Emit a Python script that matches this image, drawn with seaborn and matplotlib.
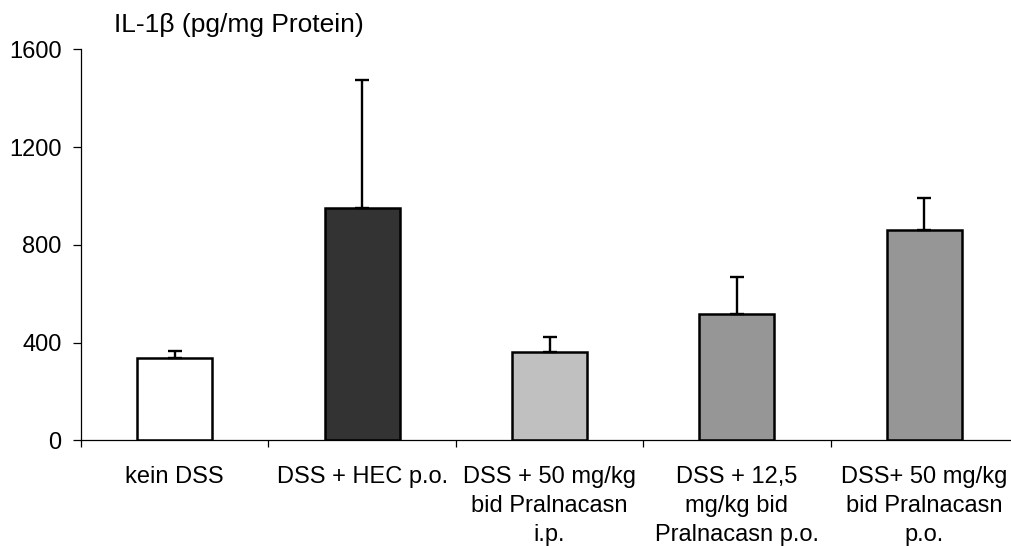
import matplotlib
matplotlib.use("Agg")
import matplotlib.pyplot as plt
import seaborn as sns
import numpy as np
import pandas as pd
from matplotlib.ticker import FixedLocator

# Groups, mean IL-1beta values and upper error (SD) per group
categories = [
    "kein DSS",
    "DSS + HEC p.o.",
    "DSS + 50 mg/kg\nbid Pralnacasn\ni.p.",
    "DSS + 12,5\nmg/kg bid\nPralnacasn p.o.",
    "DSS+ 50 mg/kg\nbid Pralnacasn\np.o.",
]
values = [338, 950, 360, 515, 862]
errors = [26, 524, 63, 154, 129]
bar_colors = ["#ffffff", "#333333", "#c0c0c0", "#969696", "#969696"]
y_ticks = [0, 400, 800, 1200, 1600]

sns.set_theme(style="white")
plt.rcParams["font.family"] = ["Liberation Sans", "DejaVu Sans"]

W, H = 1011, 546
fig = plt.figure(figsize=(W / 100, H / 100), dpi=100)
left, right, bottom, top = 81, 1018, 440.3, 49.3
ax = fig.add_axes([left / W, (H - bottom) / H, (right - left) / W, (bottom - top) / H])

df = pd.DataFrame({"group": categories, "value": values})
sns.barplot(data=df, x="group", y="value", hue="group", palette=bar_colors,
            legend=False, width=0.4, edgecolor="black", linewidth=1.8,
            saturation=1, ax=ax, zorder=2)

xpos = np.arange(len(categories))
ax.errorbar(xpos, values, yerr=[np.zeros(len(values)), errors], fmt="none",
            ecolor="black", elinewidth=1.7, capsize=5, capthick=1.7, zorder=3)

ax.set_xlim(-0.5, len(categories) - 0.5)
ax.set_ylim(0, 1600)
ax.set_yticks(y_ticks)
ax.set_xlabel("")
ax.set_ylabel("")

for side in ["top", "right"]:
    ax.spines[side].set_visible(False)
for side in ["left", "bottom"]:
    ax.spines[side].set_color("black")
    ax.spines[side].set_linewidth(0.9)

ax.tick_params(axis="y", which="major", direction="out", length=6, width=0.9,
               color="black", labelsize=17, pad=8, left=True)
ax.tick_params(axis="x", which="major", length=0, labelsize=17, pad=18.5)
ax.xaxis.set_minor_locator(FixedLocator(np.arange(-0.5, len(categories), 1.0)))
ax.tick_params(axis="x", which="minor", direction="out", length=5, width=0.9,
               color="black", bottom=True)
for lbl in ax.get_xticklabels():
    lbl.set_linespacing(1.42)
    lbl.set_color("black")
for lbl in ax.get_yticklabels():
    lbl.set_color("black")

fig.text(114 / W, 1 - 25 / H, "IL-1β (pg/mg Protein)", fontsize=19,
         ha="left", va="center", color="black")

fig.savefig("out.png", dpi=100)
